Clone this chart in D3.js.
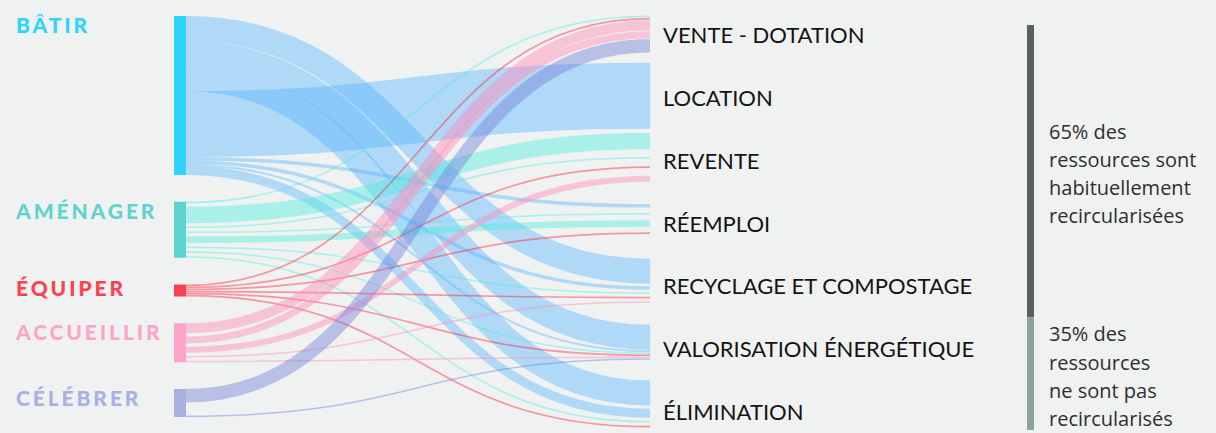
<!DOCTYPE html>
<html>
<head>
<meta charset="utf-8">
<script src="https://cdn.jsdelivr.net/npm/d3@7"></script>
<style>
  html, body { margin: 0; padding: 0; background: #f0f2f1; }
  svg { display: block; }
  .flow { fill: none; stroke-opacity: 0.45; }
</style>
</head>
<body>
<div id="chart"></div>
<script>
// left column: activities and their total volume
const sources = ["BÂTIR", "AMÉNAGER", "ÉQUIPER", "ACCUEILLIR", "CÉLÉBRER"];
const sourceTotals = [159, 56, 12, 39, 28];

// right column: what happens to the resources
const targets = ["VENTE - DOTATION", "LOCATION", "REVENTE", "RÉEMPLOI",
  "RECYCLAGE ET COMPOSTAGE", "VALORISATION ÉNERGÉTIQUE", "ÉLIMINATION"];
const targetTotals = [37, 68, 49, 30, 44, 35, 47];

// flows leaving each activity, top to bottom: [target, value]
const batirFlows = [["RECYCLAGE ET COMPOSTAGE", 25], ["VALORISATION ÉNERGÉTIQUE", 25], ["ÉLIMINATION", 25],
  ["LOCATION", 66], ["RÉEMPLOI", 3.5], ["RECYCLAGE ET COMPOSTAGE", 3.5], ["VALORISATION ÉNERGÉTIQUE", 2], ["ÉLIMINATION", 9]];
const amenagerFlows = [["VENTE - DOTATION", 1.5], ["REVENTE", 16.5], ["REVENTE", 1.5], ["RÉEMPLOI", 1.5],
  ["RÉEMPLOI", 6.5], ["RECYCLAGE ET COMPOSTAGE", 1.5], ["VALORISATION ÉNERGÉTIQUE", 1.5], ["ÉLIMINATION", 1.5]];
const equiperFlows = [["VENTE - DOTATION", 1.7], ["REVENTE", 1.7], ["RÉEMPLOI", 1.7],
  ["RECYCLAGE ET COMPOSTAGE", 1.7], ["VALORISATION ÉNERGÉTIQUE", 1.7], ["ÉLIMINATION", 1.7]];
const accueillirFlows = [["VENTE - DOTATION", 10], ["VENTE - DOTATION", 7], ["REVENTE", 6],
  ["RECYCLAGE ET COMPOSTAGE", 1.5], ["VALORISATION ÉNERGÉTIQUE", 1.5]];
const celebrerFlows = [["VENTE - DOTATION", 13.5], ["VALORISATION ÉNERGÉTIQUE", 1.5]];

// annotation on the right: groups of outcomes
const shareTexts = [["65% des", "ressources sont", "habituellement", "recircularisées"],
  ["35% des", "ressources", "ne sont pas", "recircularisés"]];
const shareGroups = [[0, 4], [5, 6]];

// styles
const nodeColors = ["#2ed3ff", "#5fd4cf", "#ff4052", "#ffa3cb", "#a9b1e0"];
const flowColors = ["#62b8ff", "#50eedd", "#ff263d", "#ff8cb9", "#7483d9"];
const barColors = ["#5b6163", "#8fa09a"];

const width = 1216, height = 433;
const nodeX0 = 174, nodeX1 = 186, flowEnd = 650;
const leftTop = 16, leftBottom = 417, nodePad = 26.75;

let svg = d3.select("#chart").append("svg")
    .attr("width", width)
    .attr("height", height);
svg.append("rect").attr("width", width).attr("height", height).attr("fill", "#f0f2f1");

let flowsBySource = [batirFlows, amenagerFlows, equiperFlows, accueillirFlows, celebrerFlows];

//value -> pixels
let usable = leftBottom - leftTop - nodePad * (sources.length - 1);
let v = d3.scaleLinear().domain([0, d3.sum(sourceTotals)]).range([0, usable]);

//left nodes stacked top to bottom
let leftNodes = [];
let yCursor = leftTop;
sources.forEach((name, i) => {
    let h = v(sourceTotals[i]);
    leftNodes.push({name: name, y0: yCursor, y1: yCursor + h, i: i});
    yCursor += h + nodePad;
});

//right nodes centred on evenly spaced points
let rightCenter = d3.scalePoint().domain(targets).range([34, 404]);
let rightNodes = targets.map((name, j) => {
    let h = v(targetTotals[j]);
    let c = rightCenter(name);
    return {name: name, y0: c - h / 2, y1: c + h / 2};
});

//build flows
let flows = [];
flowsBySource.forEach((list, si) => {
    list.forEach((f, k) => {
        flows.push({source: si, target: targets.indexOf(f[0]), value: f[1], w: v(f[1]), order: k});
    });
});

//spread the flows inside a node, leftover space goes between them
function stack(list, node, key) {
    let total = d3.sum(list, d => d.w);
    let spare = node.y1 - node.y0 - total;
    let gap = list.length > 1 ? spare / (list.length - 1) : 0;
    let y = list.length > 1 ? node.y0 : node.y0 + spare / 2;
    list.forEach(d => {
        d[key] = y + d.w / 2;
        y += d.w + gap;
    });
}

leftNodes.forEach((node, si) => {
    stack(flows.filter(d => d.source === si), node, "sy");
});
rightNodes.forEach((node, ti) => {
    let list = flows.filter(d => d.target === ti)
        .sort((a, b) => a.source - b.source || a.order - b.order);
    stack(list, node, "ty");
});

let link = d3.linkHorizontal()
    .source(d => [nodeX1, d.sy])
    .target(d => [flowEnd, d.ty]);

svg.append("g").selectAll("path")
    .data(flows)
    .join("path")
    .attr("class", "flow")
    .attr("d", link)
    .attr("stroke", d => flowColors[d.source])
    .attr("stroke-width", d => Math.max(d.w, 1.5));

//left nodes and labels
svg.append("g").selectAll("rect")
    .data(leftNodes)
    .join("rect")
    .attr("x", nodeX0)
    .attr("y", d => d.y0)
    .attr("width", nodeX1 - nodeX0)
    .attr("height", d => d.y1 - d.y0)
    .attr("fill", d => nodeColors[d.i]);

svg.append("g").selectAll("text")
    .data(leftNodes)
    .join("text")
    .attr("x", 16)
    .attr("y", d => d.y0 + Math.min(17, (d.y1 - d.y0) / 2 + 5))
    .attr("fill", d => nodeColors[d.i])
    .style("font-family", "Lato, sans-serif")
    .style("font-weight", 900)
    .style("font-size", "21px")
    .style("letter-spacing", "2.9px")
    .text(d => d.name);

//right labels
let labelY = d3.scalePoint().domain(targets).range([43.3, 420]);
svg.append("g").selectAll("text")
    .data(targets)
    .join("text")
    .attr("x", 663)
    .attr("y", d => labelY(d))
    .attr("fill", "#141414")
    .style("font-family", "Lato, sans-serif")
    .style("font-size", "22px")
    .text(d => d);

//65% / 35% bars
let boundary = (labelY(targets[shareGroups[0][1]]) + labelY(targets[shareGroups[1][0]])) / 2 - 8.5;
let bars = [
    {y0: labelY(targets[shareGroups[0][0]]) - 18.3, y1: boundary},
    {y0: boundary, y1: labelY(targets[shareGroups[1][1]]) + 10}
];
svg.append("g").selectAll("rect")
    .data(bars)
    .join("rect")
    .attr("x", 1027)
    .attr("y", d => d.y0)
    .attr("width", 7)
    .attr("height", d => d.y1 - d.y0)
    .attr("fill", (d, i) => barColors[i]);

bars.forEach((b, i) => {
    let mid = (b.y0 + b.y1) / 2 + 10;
    let t = svg.append("text")
        .attr("fill", "#2e2e2e")
        .style("font-family", "'Open Sans', sans-serif")
        .style("font-size", "20px");
    shareTexts[i].forEach((line, k) => {
        t.append("tspan")
            .attr("x", 1049)
            .attr("y", mid + (k - 1.5) * 28.2)
            .text(line);
    });
});
</script>
</body>
</html>
